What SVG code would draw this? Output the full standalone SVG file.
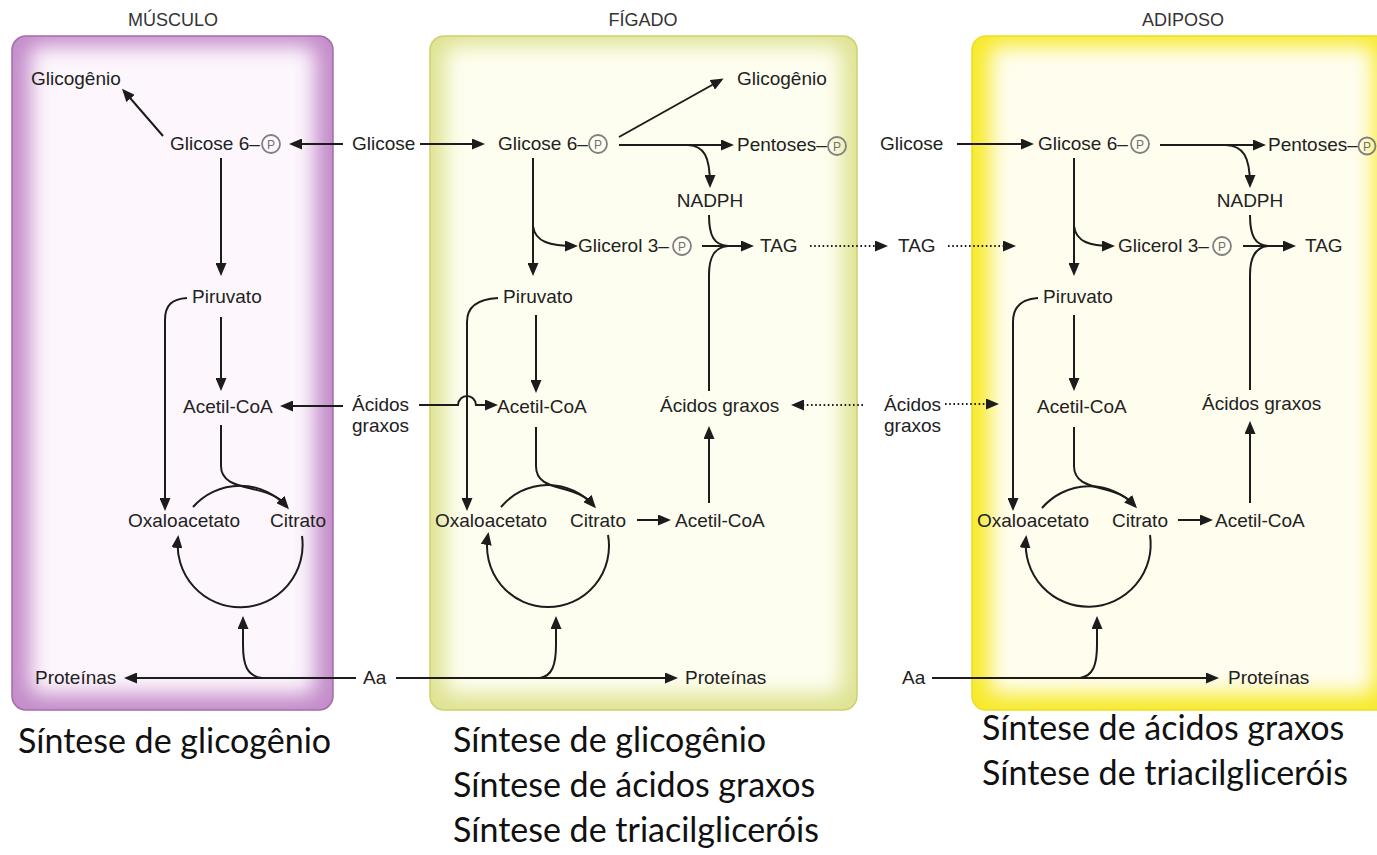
<svg xmlns="http://www.w3.org/2000/svg" width="1377" height="855" viewBox="0 0 1377 855">
  <style>
    .lbl { font-family: "Liberation Sans", Arial, Helvetica, sans-serif; font-size: 19px; fill: #222; }
    .ttl { font-family: "Liberation Sans", Arial, Helvetica, sans-serif; font-size: 18px; fill: #333; text-anchor: middle; }
    .cap { font-family: Lato, "Open Sans", sans-serif; font-size: 34px; fill: #111; }
    .pc { fill: none; stroke: #808080; stroke-width: 1.8; }
    .pt { font-family: "Liberation Sans", Arial, sans-serif; font-size: 12px; fill: #707070; text-anchor: middle; }
    .c { fill: none; stroke: #1c1c1c; stroke-width: 2; }
    .arr { marker-end: url(#ah); }
    .dot { stroke-dasharray: 1.6 2.6; }
  </style>
  <defs>
    <marker id="ah" markerWidth="13" markerHeight="11" refX="10" refY="5.5" orient="auto" markerUnits="userSpaceOnUse">
      <path d="M0,0 L13,5.5 L0,11 z" fill="#1c1c1c"/>
    </marker>
    <filter id="soft" x="-10%" y="-10%" width="120%" height="120%">
      <feGaussianBlur stdDeviation="10"/>
    </filter>
    <clipPath id="clipM"><rect x="12" y="36" width="321" height="674" rx="14"/></clipPath>
    <clipPath id="clipL"><rect x="430" y="36" width="427" height="674" rx="14"/></clipPath>
    <clipPath id="clipA"><rect x="972" y="36" width="420" height="674" rx="14"/></clipPath>
  </defs>

  <rect width="1377" height="855" fill="#ffffff"/>

  <!-- tissue panels -->
  <g id="panel-musculo">
    <rect x="12" y="36" width="321" height="674" rx="14" fill="#c48dca"/>
    <rect x="30" y="46" width="285" height="648" rx="10" fill="#fdf6fd" filter="url(#soft)" clip-path="url(#clipM)"/>
    <rect x="12" y="36" width="321" height="674" rx="14" fill="none" stroke="#a46cab" stroke-width="1.5"/>
    <text class="ttl" x="173" y="26">MÚSCULO</text>
  </g>
  <g id="panel-figado">
    <rect x="430" y="36" width="427" height="674" rx="14" fill="#dfe393"/>
    <rect x="445" y="46" width="397" height="648" rx="10" fill="#fefef0" filter="url(#soft)" clip-path="url(#clipL)"/>
    <rect x="430" y="36" width="427" height="674" rx="14" fill="none" stroke="#cbd16e" stroke-width="1.5"/>
    <text class="ttl" x="643" y="26">FÍGADO</text>
  </g>
  <g id="panel-adiposo">
    <rect x="972" y="36" width="420" height="674" rx="14" fill="#f7ea2c"/>
    <rect x="990" y="46" width="384" height="648" rx="10" fill="#fffdee" filter="url(#soft)" clip-path="url(#clipA)"/>
    <rect x="972" y="36" width="420" height="674" rx="14" fill="none" stroke="#eedd22" stroke-width="1.5"/>
    <text class="ttl" x="1183" y="26">ADIPOSO</text>
  </g>

  <!-- connectors -->
  <g id="connectors">
    <!-- muscle -->
    <path class="c arr" d="M163,136 L124,91"/>
    <path class="c arr" d="M343,144 L292,144"/>
    <path class="c arr" d="M221,158 L221,273"/>
    <path class="c arr" d="M187,298 C172,299 165,305 165,320 L165,508"/>
    <path class="c arr" d="M221,317 L221,388"/>
    <path class="c arr" d="M343,406 L283,406"/>
    <path class="c" d="M221,425 L221,466 C221,494 268,482 287,506"/>
    <path class="c arr" d="M193,507 A62.5,62.5 0 0 1 287,507"/>
    <path class="c arr" d="M302,536 A62.5,62.5 0 1 1 178,538"/>
    <path class="c arr" d="M356,678 L127,678"/>
    <path class="c arr" d="M262,678 C247,676 243,665 243,645 L243,619"/>

    <!-- muscle / liver shared inputs -->
    <path class="c arr" d="M420,144 L482,144"/>
    <path class="c arr" d="M419,405 L458,405 C459,393 475,393 476,405 L495,405"/>
    <path class="c arr" d="M396,678 L675,678"/>

    <!-- liver -->
    <path class="c arr" d="M619,137 L721,80"/>
    <path class="c arr" d="M619,145 L731,145"/>
    <path class="c arr" d="M688,145 C704,146 710,156 710,185"/>
    <path class="c" d="M709,215 C709,236 714,245 728,246"/>
    <path class="c arr" d="M702,246 L751,246"/>
    <path class="c" d="M709,391 L709,275 C709,256 715,247 728,246"/>
    <path class="c arr" d="M533,158 L533,273"/>
    <path class="c arr" d="M533,226 C535,242 550,246 575,246"/>
    <path class="c arr" d="M498,298 C478,299 467,306 467,322 L467,508"/>
    <path class="c arr" d="M536,315 L536,390"/>
    <path class="c" d="M536,427 L536,466 C536,494 576,482 594,506"/>
    <path class="c arr" d="M501,507 A61,61 0 0 1 594,506"/>
    <path class="c arr" d="M608,535 A61,61 0 1 1 488,535"/>
    <path class="c arr" d="M637,520 L668,520"/>
    <path class="c arr" d="M709,503 L709,429"/>
    <path class="c arr" d="M540,678 C552,676 556,665 556,645 L556,619"/>

    <!-- transport between tissues -->
    <path class="c dot arr" d="M810,246 L885,246"/>
    <path class="c dot arr" d="M948,246 L1013,246"/>
    <path class="c dot arr" d="M863,405 L794,405"/>
    <path class="c dot arr" d="M945,404 L996,404"/>
    <path class="c arr" d="M957,144 L1031,144"/>

    <!-- adipose -->
    <path class="c arr" d="M1160,145 L1263,145"/>
    <path class="c arr" d="M1226,145 C1243,146 1250,156 1250,185"/>
    <path class="c" d="M1250,215 C1250,236 1255,245 1268,246"/>
    <path class="c arr" d="M1243,246 L1293,246"/>
    <path class="c" d="M1250,390 L1250,275 C1250,256 1256,247 1268,246"/>
    <path class="c arr" d="M1074,158 L1074,273"/>
    <path class="c arr" d="M1074,226 C1076,242 1090,246 1112,246"/>
    <path class="c arr" d="M1038,298 C1022,299 1013,306 1013,322 L1013,508"/>
    <path class="c arr" d="M1074,315 L1074,388"/>
    <path class="c" d="M1074,427 L1074,466 C1074,494 1117,482 1135,506"/>
    <path class="c arr" d="M1042,508 A62.5,62.5 0 0 1 1135,506"/>
    <path class="c arr" d="M1150,535 A62.5,62.5 0 1 1 1026,538"/>
    <path class="c arr" d="M1178,520 L1210,520"/>
    <path class="c arr" d="M1250,503 L1250,424"/>
    <path class="c arr" d="M932,678 L1216,678"/>
    <path class="c arr" d="M1080,678 C1093,676 1097,665 1097,645 L1097,619"/>
  </g>

  <!-- muscle nodes -->
  <g id="m-glicogenio"><text class="lbl" x="31" y="85">Glicogênio</text></g>
  <g id="m-g6p"><text class="lbl" x="170" y="150">Glicose 6–</text><circle class="pc" cx="271" cy="144" r="9"/><text class="pt" x="271" y="148.5">P</text></g>
  <g id="m-piruvato"><text class="lbl" x="192" y="303">Piruvato</text></g>
  <g id="m-acetilcoa"><text class="lbl" x="183" y="413">Acetil-CoA</text></g>
  <g id="m-oxaloacetato"><text class="lbl" x="128" y="527">Oxaloacetato</text></g>
  <g id="m-citrato"><text class="lbl" x="270" y="527">Citrato</text></g>
  <g id="m-proteinas"><text class="lbl" x="35" y="684">Proteínas</text></g>

  <!-- blood-borne substrates -->
  <g id="glicose-1"><text class="lbl" x="352" y="150">Glicose</text></g>
  <g id="acidos-graxos-1"><text class="lbl" x="352" y="411">Ácidos<tspan x="352" y="432">graxos</tspan></text></g>
  <g id="aa-1"><text class="lbl" x="363" y="684">Aa</text></g>

  <!-- liver nodes -->
  <g id="f-g6p"><text class="lbl" x="498" y="150">Glicose 6–</text><circle class="pc" cx="598" cy="144" r="9"/><text class="pt" x="598" y="148.5">P</text></g>
  <g id="f-glicogenio"><text class="lbl" x="737" y="85">Glicogênio</text></g>
  <g id="f-pentoses"><text class="lbl" x="737" y="151">Pentoses–</text><circle class="pc" cx="837" cy="146" r="9"/><text class="pt" x="837" y="150.5">P</text></g>
  <g id="f-nadph"><text class="lbl" x="710" y="207" text-anchor="middle">NADPH</text></g>
  <g id="f-glicerol3p"><text class="lbl" x="578" y="252">Glicerol 3–</text><circle class="pc" cx="682" cy="246" r="9"/><text class="pt" x="682" y="250.5">P</text></g>
  <g id="f-tag"><text class="lbl" x="760" y="252">TAG</text></g>
  <g id="f-piruvato"><text class="lbl" x="503" y="303">Piruvato</text></g>
  <g id="f-acetilcoa"><text class="lbl" x="497" y="413">Acetil-CoA</text></g>
  <g id="f-acidos-graxos"><text class="lbl" x="660" y="412">Ácidos graxos</text></g>
  <g id="f-oxaloacetato"><text class="lbl" x="435" y="527">Oxaloacetato</text></g>
  <g id="f-citrato"><text class="lbl" x="570" y="527">Citrato</text></g>
  <g id="f-acetilcoa-2"><text class="lbl" x="675" y="527">Acetil-CoA</text></g>
  <g id="f-proteinas"><text class="lbl" x="685" y="684">Proteínas</text></g>

  <!-- plasma between liver and adipose -->
  <g id="tag-plasma"><text class="lbl" x="898" y="252">TAG</text></g>
  <g id="acidos-graxos-2"><text class="lbl" x="884" y="411">Ácidos<tspan x="884" y="432">graxos</tspan></text></g>
  <g id="glicose-2"><text class="lbl" x="880" y="150">Glicose</text></g>
  <g id="aa-2"><text class="lbl" x="902" y="684">Aa</text></g>

  <!-- adipose nodes -->
  <g id="a-g6p"><text class="lbl" x="1038" y="150">Glicose 6–</text><circle class="pc" cx="1140" cy="144" r="9"/><text class="pt" x="1140" y="148.5">P</text></g>
  <g id="a-pentoses"><text class="lbl" x="1268" y="151">Pentoses–</text><circle class="pc" cx="1367" cy="146" r="8.5"/><text class="pt" x="1367" y="150.5">P</text></g>
  <g id="a-nadph"><text class="lbl" x="1250" y="207" text-anchor="middle">NADPH</text></g>
  <g id="a-glicerol3p"><text class="lbl" x="1118" y="252">Glicerol 3–</text><circle class="pc" cx="1222" cy="246" r="9"/><text class="pt" x="1222" y="250.5">P</text></g>
  <g id="a-tag"><text class="lbl" x="1305" y="252">TAG</text></g>
  <g id="a-piruvato"><text class="lbl" x="1043" y="303">Piruvato</text></g>
  <g id="a-acetilcoa"><text class="lbl" x="1037" y="413">Acetil-CoA</text></g>
  <g id="a-acidos-graxos"><text class="lbl" x="1202" y="410">Ácidos graxos</text></g>
  <g id="a-oxaloacetato"><text class="lbl" x="977" y="527">Oxaloacetato</text></g>
  <g id="a-citrato"><text class="lbl" x="1112" y="527">Citrato</text></g>
  <g id="a-acetilcoa-2"><text class="lbl" x="1215" y="527">Acetil-CoA</text></g>
  <g id="a-proteinas"><text class="lbl" x="1228" y="684">Proteínas</text></g>

  <!-- summaries under each tissue -->
  <g id="resumo-musculo">
    <text class="cap" x="18" y="753">Síntese de glicogênio</text>
  </g>
  <g id="resumo-figado">
    <text class="cap" x="453" y="752">Síntese de glicogênio</text>
    <text class="cap" x="453" y="797">Síntese de ácidos graxos</text>
    <text class="cap" x="453" y="842">Síntese de triacilgliceróis</text>
  </g>
  <g id="resumo-adiposo">
    <text class="cap" x="982" y="740">Síntese de ácidos graxos</text>
    <text class="cap" x="982" y="785">Síntese de triacilgliceróis</text>
  </g>
</svg>
